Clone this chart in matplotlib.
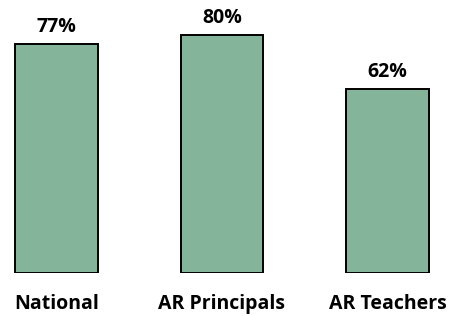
import matplotlib.pyplot as plt

categories = ['National', 'AR Principals', 'AR Teachers']
values = [77, 80, 62]
labels = ['77%', '80%', '62%']

plt.rcParams['font.family'] = ['Open Sans', 'DejaVu Sans']

fig = plt.figure(figsize=(4.53, 3.16), dpi=100)
ax = fig.add_axes([0, 43 / 316, 1, 273 / 316])

x = range(len(categories))
bars = ax.bar(x, values, width=0.5, color='#84b59b', edgecolor='black', linewidth=1.4)

for b, lab in zip(bars, labels):
    ax.annotate(lab, (b.get_x() + b.get_width() / 2, b.get_height()),
                xytext=(0, 5), textcoords='offset points',
                ha='center', va='bottom', fontsize=14, fontweight='bold')

ax.set_xlim(-56.5 / 165.5, (453 - 56.5) / 165.5)
ax.set_ylim(0, 91.8)
ax.set_xticks(list(x))
ax.set_xticklabels(categories, fontsize=14, fontweight='bold')
ax.tick_params(axis='x', length=0, pad=15)
ax.set_yticks([])
for s in ax.spines.values():
    s.set_visible(False)

fig.savefig('out.png', dpi=100)
